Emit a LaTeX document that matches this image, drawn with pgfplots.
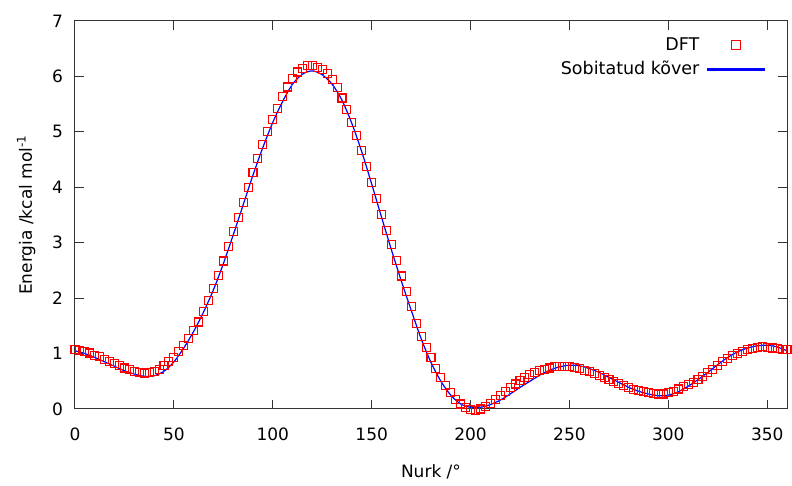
\documentclass[border=0pt]{standalone}
\usepackage{fontspec}
\setmainfont{DejaVu Sans}
\usepackage{pgfplots}
\pgfplotsset{compat=1.18}
\definecolor{fitblue}{RGB}{0,0,255}
\begin{document}
\fontsize{17.5bp}{20bp}\selectfont
\begin{tikzpicture}
\begin{axis}[
  width=712bp, height=388bp, scale only axis,
  xmin=0, xmax=360, ymin=0, ymax=7,
  xtick={0,50,...,350}, ytick={0,1,...,7},
  tick align=inside, major tick length=9bp,
  axis line style={black!80, line width=1bp},
  every tick/.style={black!80, line width=1bp},
  /pgf/number format/assume math mode=true,
  tick label style={font=\fontsize{17bp}{20bp}\selectfont},
  xticklabel style={yshift=-13bp},
  yticklabel style={xshift=-6bp},
  label style={font=\fontsize{17bp}{20bp}\selectfont},
  xlabel={Nurk /°}, ylabel={Energia /kcal mol\textsuperscript{-1}},
  xlabel style={yshift=-12bp},
  ylabel style={yshift=5bp},
  clip=false,
  legend style={draw=none, fill=none, at={(0.973,0.967)}, anchor=north east,
    font=\fontsize{17.5bp}{20bp}\selectfont, row sep=4bp, column sep=6bp},
  legend cell align=right,
  legend plot pos=right,
]
\coordinate (bl) at (rel axis cs:0,0);
\coordinate (tr) at (rel axis cs:1,1);
\addplot[only marks, mark=square, mark size=4bp, mark options={red, line width=1.1bp},
  legend image code/.code={\draw[red, line width=1.1bp] (23.5bp,-4bp) rectangle (32.5bp,5bp);\path[draw=none] (0bp,0bp) -- (56bp,0bp);}] table {
x y
0 1.07
2.5 1.06
5 1.04
7.5 1.01
10 0.97
12.5 0.94
15 0.90
17.5 0.86
20 0.82
22.5 0.78
25 0.74
27.5 0.71
30 0.68
32.5 0.66
35 0.65
37.5 0.66
40 0.68
42.5 0.72
45 0.78
47.5 0.85
50 0.93
52.5 1.03
55 1.14
57.5 1.27
60 1.41
62.5 1.57
65 1.76
67.5 1.96
70 2.18
72.5 2.41
75 2.67
77.5 2.93
80 3.20
82.5 3.46
85 3.72
87.5 3.99
90 4.26
92.5 4.52
95 4.77
97.5 5.01
100 5.22
102.5 5.42
105 5.63
107.5 5.81
110 5.97
112.5 6.08
115 6.15
117.5 6.19
120 6.19
122.5 6.16
125 6.12
127.5 6.05
130 5.95
132.5 5.80
135 5.61
137.5 5.40
140 5.17
142.5 4.94
145 4.66
147.5 4.37
150 4.08
152.5 3.79
155 3.51
157.5 3.22
160 2.97
162.5 2.68
165 2.40
167.5 2.12
170 1.85
172.5 1.55
175 1.30
177.5 1.11
180 0.93
182.5 0.73
185 0.57
187.5 0.42
190 0.29
192.5 0.17
195 0.09
197.5 0.03
200 -0.01
202.5 -0.02
205 0.00
207.5 0.05
210 0.10
212.5 0.17
215 0.24
217.5 0.32
220 0.38
222.5 0.45
225 0.52
227.5 0.57
230 0.62
232.5 0.66
235 0.69
237.5 0.72
240 0.74
242.5 0.76
245 0.76
247.5 0.76
250 0.76
252.5 0.75
255 0.73
257.5 0.70
260 0.67
262.5 0.64
265 0.61
267.5 0.57
270 0.53
272.5 0.50
275 0.46
277.5 0.43
280 0.39
282.5 0.35
285 0.33
287.5 0.31
290 0.29
292.5 0.28
295 0.27
297.5 0.27
300 0.29
302.5 0.32
305 0.36
307.5 0.40
310 0.44
312.5 0.48
315 0.53
317.5 0.59
320 0.66
322.5 0.72
325 0.79
327.5 0.86
330 0.91
332.5 0.96
335 1.00
337.5 1.04
340 1.07
342.5 1.09
345 1.11
347.5 1.12
350 1.11
352.5 1.10
355 1.09
357.5 1.08
360 1.07
};
\addlegendentry{DFT}
\addplot[fitblue, line width=1.2bp, smooth, no marks,
  legend image code/.code={\fill[fitblue] (0bp,-0.55bp) rectangle (56bp,0.55bp);}] table {
x y
0 1.05
5 1.00
10 0.93
15 0.85
20 0.77
25 0.69
30 0.63
35 0.59
40 0.60
45 0.68
50 0.85
55 1.10
60 1.40
65 1.75
70 2.15
75 2.62
80 3.14
85 3.68
90 4.22
95 4.72
100 5.17
105 5.55
110 5.86
115 6.04
120 6.10
125 6.03
130 5.86
135 5.57
140 5.15
145 4.64
150 4.06
155 3.46
160 2.87
165 2.31
170 1.78
175 1.27
180 0.84
185 0.50
190 0.25
195 0.09
200 0.03
205 0.03
210 0.08
215 0.16
220 0.27
225 0.39
230 0.50
235 0.61
240 0.70
245 0.76
250 0.79
255 0.78
260 0.73
265 0.66
270 0.57
275 0.48
280 0.39
285 0.32
290 0.27
295 0.24
300 0.25
305 0.31
310 0.41
315 0.53
320 0.66
325 0.80
330 0.93
335 1.03
340 1.10
345 1.14
350 1.15
355 1.12
360 1.05
};
\addlegendentry{Sobitatud kõver}
\end{axis}
\path[use as bounding box] ([shift={(-75bp,-77bp)}]bl) rectangle ([shift={(5bp,21bp)}]tr);
\end{tikzpicture}
\end{document}
